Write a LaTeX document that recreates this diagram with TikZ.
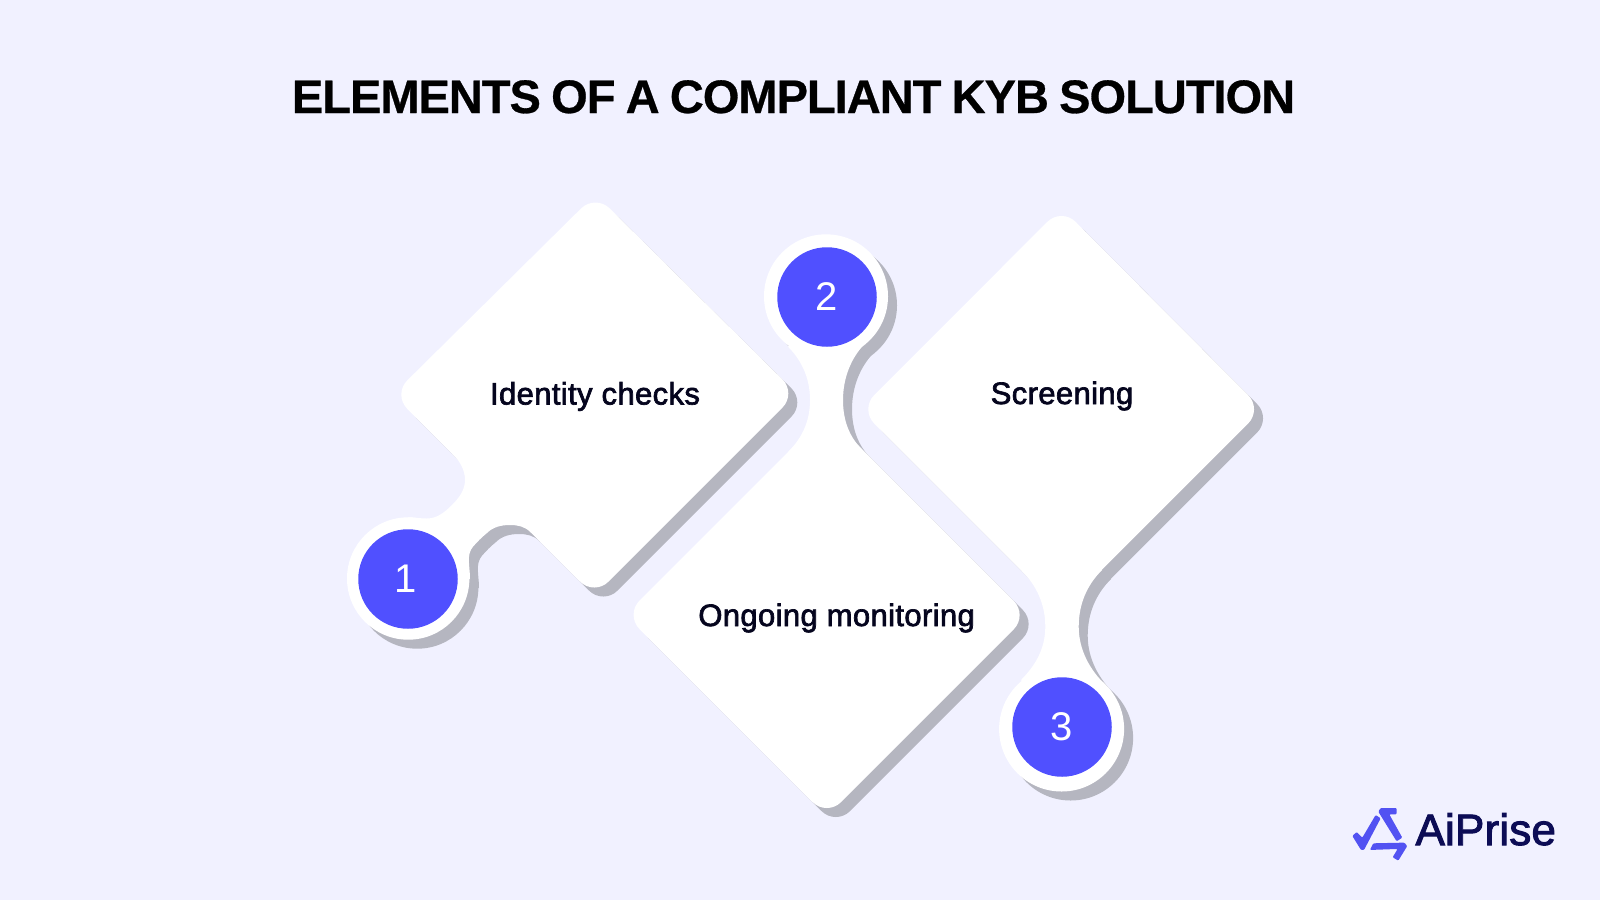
\documentclass[tikz,border=0pt]{standalone}
\usepackage{fontspec}
\setmainfont{Liberation Sans}
\newfontfamily\titlefont[FakeBold=0.6, LetterSpace=-2.1, WordSpace=0.85]{Liberation Sans Bold}
\newfontfamily\labelfont[FakeBold=2.2, LetterSpace=1.2]{Liberation Sans}
\newfontfamily\logofont[FakeBold=2.2, LetterSpace=0.4]{Liberation Sans}
\definecolor{pagebg}{HTML}{F1F1FF}
\definecolor{shadowgray}{HTML}{B5B6C0}
\definecolor{dotblue}{HTML}{5050FF}
\definecolor{inkdark}{HTML}{05051E}
\definecolor{logoblue}{HTML}{5252F2}
\definecolor{logonavy}{HTML}{0C0C55}
\tikzset{
   titletext/.style={text=black, font=\titlefont\fontsize{47}{50}\selectfont, anchor=base},
   boxtext/.style={text=inkdark, font=\labelfont\fontsize{31}{34}\selectfont, anchor=base},
   dot/.style={circle, fill=dotblue, minimum size=99.5pt, inner sep=0pt, text=white, font=\fontsize{40}{44}\selectfont},
   logotext/.style={text=logonavy, font=\logofont\fontsize{44}{46}\selectfont, anchor=base west},
   logostroke/.style={fill=logoblue, rounded corners=1pt}
}
\newcommand{\shapeone}[1]{%
   \fill[#1, rounded corners=20pt] (595.4,194.3) -- (796.6,393.4) -- (594.3,595.8) -- (393,394.5) -- cycle;
   \fill[#1] (452,453.5) .. controls (460,461) and (465,470) .. (465,480)
      .. controls (465,490) and (459,498) .. (452,505)
      .. controls (445,512) and (437,518.5) .. (427,518.5)
      .. controls (420,518.5) and (414,517.3) .. (408,517.3) -- (408,579) -- (470,579)
      .. controls (470,566) and (466,555) .. (473,546.7)
      .. controls (477,542) and (482,537) .. (487,533)
      .. controls (493,527) and (501,525) .. (510,525)
      .. controls (518,525) and (525,526.5) .. (531,532.5) -- (500,470) -- cycle;
   \fill[#1] (408.2,578.5) circle (61.2);
}
\newcommand{\shapetwo}[1]{%
   \fill[#1, rounded corners=20pt] (826.4,413.6) -- (1027.9,615.1) -- (826.8,816.3) -- (625.3,614.8) -- cycle;
   \fill[#1] (788,346.7) .. controls (803,361.7) and (810,380) .. (810,400)
      .. controls (810,420) and (803,437) .. (788.3,451.7) -- (826,500) -- (862,449.5)
      .. controls (849,436.5) and (843,420) .. (843,400)
      .. controls (843,378) and (851,357) .. (866.7,341.7) -- (826,296) -- cycle;
   \fill[#1] (826,296.3) circle (62);
}
\newcommand{\shapethree}[1]{%
   \fill[#1, rounded corners=20pt] (1061.5,207.7) -- (1262.3,409.3) -- (1061.2,610.5) -- (860,409.3) -- cycle;
   \fill[#1] (1022,571) .. controls (1037,586) and (1045.3,605) .. (1045.3,626.7)
      .. controls (1045.3,648) and (1036,665) .. (1021,680) -- (1062,728) -- (1105.5,685)
      .. controls (1090,670) and (1078.7,650) .. (1078.7,626.7)
      .. controls (1078.7,604) and (1087,585) .. (1102,570) -- (1061,540) -- cycle;
   \fill[#1] (1061.6,729) circle (62.5);
}
\begin{document}
\begin{tikzpicture}[x=1pt, y=-1pt]
   \useasboundingbox[fill=pagebg] (0,0) rectangle (1600,900);
   \node[titletext] (title) at (793.5,113) {ELEMENTS OF A COMPLIANT KYB SOLUTION};
   \shapeone{shadowgray, shift={(9,9)}}
   \shapeone{white}
   \shapetwo{shadowgray, shift={(9,9)}}
   \shapetwo{white}
   \shapethree{shadowgray, shift={(9,9)}}
   \shapethree{white}
   \node[dot] (dotone) at (408,579) {\hspace{-4pt}1};
   \node[dot] (dottwo) at (827,297) {\hspace{-1pt}2};
   \node[dot] (dotthree) at (1062,727) {3};
   \node[boxtext] (identity) at (595,404.5) {Identity checks};
   \node[boxtext] (ongoing) at (836.6,626) {Ongoing monitoring};
   \node[boxtext] (screening) at (1062,404) {Screening};
   \begin{scope}[shift={(1345,800)}, x=0.333pt, y=-0.333pt]
      \fill[logostroke] (22,108) -- (35,96) -- (52,113) -- (92,45) -- (107,55) -- (57,150) -- (48,150) -- cycle;
      \fill[logostroke] (100,35) -- (107,24) -- (155,24) -- (155,43) -- (133,43) -- (172,113) -- (155,124) -- cycle;
      \fill[logostroke] (85,130) -- (178,128) -- (187,138) -- (160,182) -- (143,172) -- (158,147) -- (75,150) -- cycle;
   \end{scope}
   \node[logotext] (brand) at (1412,845) {AiPrise};
\end{tikzpicture}
\end{document}
